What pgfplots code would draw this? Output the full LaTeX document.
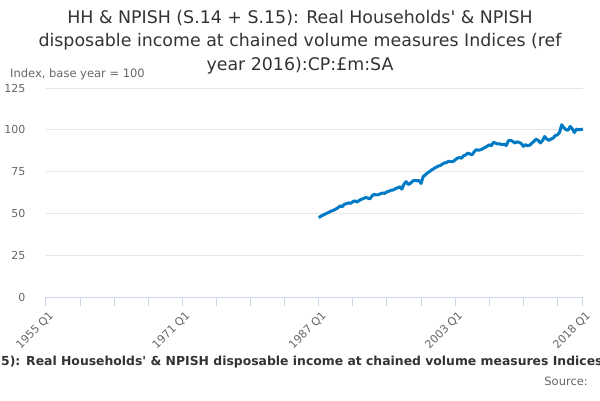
\documentclass[border=0pt]{standalone}
\usepackage{pgfplots}
\pgfplotsset{compat=1.18}
\usepackage{fontspec}
\setmainfont{DejaVu Sans}
\definecolor{linec}{RGB}{0,122,196}
\definecolor{gridc}{HTML}{E6E6E6}
\definecolor{axisc}{HTML}{CCD6EB}
\definecolor{titc}{HTML}{333333}
\definecolor{labc}{HTML}{666666}
\pgfplotstableread{
t v
1987.00 47.5
1987.25 48.3
1987.50 49.0
1987.75 49.6
1988.00 50.2
1988.25 50.8
1988.50 51.5
1988.75 51.9
1989.00 52.6
1989.25 53.3
1989.50 54.5
1989.75 54.0
1990.00 55.5
1990.25 55.8
1990.50 56.3
1990.75 56.0
1991.00 57.0
1991.25 57.5
1991.50 56.8
1991.75 57.8
1992.00 58.4
1992.25 58.9
1992.50 59.5
1992.75 59.2
1993.00 58.7
1993.25 60.5
1993.50 61.4
1993.75 61.0
1994.00 61.2
1994.25 61.8
1994.50 62.2
1994.75 62.0
1995.00 62.9
1995.25 63.3
1995.50 63.9
1995.75 64.0
1996.00 64.8
1996.25 65.3
1996.50 65.9
1996.75 64.5
1997.00 67.5
1997.25 69.0
1997.50 67.3
1997.75 68.0
1998.00 69.3
1998.25 69.8
1998.50 69.5
1998.75 69.6
1999.00 67.9
1999.25 72.0
1999.50 73.0
1999.75 74.2
2000.00 75.0
2000.25 76.0
2000.50 76.8
2000.75 77.5
2001.00 78.3
2001.25 78.6
2001.50 79.5
2001.75 80.2
2002.00 80.4
2002.25 81.2
2002.50 81.0
2002.75 81.0
2003.00 82.0
2003.25 83.0
2003.50 83.4
2003.75 83.0
2004.00 84.5
2004.25 85.0
2004.50 86.1
2004.75 85.5
2005.00 85.1
2005.25 87.0
2005.50 88.1
2005.75 87.8
2006.00 88.1
2006.25 88.7
2006.50 89.5
2006.75 90.1
2007.00 91.0
2007.25 90.5
2007.50 92.5
2007.75 92.0
2008.00 91.5
2008.25 91.6
2008.50 91.1
2008.75 91.3
2009.00 90.6
2009.25 93.5
2009.50 93.7
2009.75 93.1
2010.00 92.1
2010.25 92.8
2010.50 92.5
2010.75 91.8
2011.00 90.1
2011.25 91.1
2011.50 90.5
2011.75 90.8
2012.00 92.0
2012.25 93.1
2012.50 94.4
2012.75 93.6
2013.00 92.1
2013.25 93.5
2013.50 96.0
2013.75 94.5
2014.00 93.7
2014.25 94.5
2014.50 95.0
2014.75 96.5
2015.00 97.0
2015.25 98.4
2015.50 103.0
2015.75 101.3
2016.00 100.0
2016.25 99.8
2016.50 102.0
2016.75 100.5
2017.00 98.4
2017.25 100.4
2017.50 100.0
2017.75 100.2
2018.00 100.4
}\datatable
\begin{document}
\begin{tikzpicture}
\path[use as bounding box] (0pt,0pt) rectangle (600pt,400pt);
\begin{axis}[
  at={(46pt,103pt)}, anchor=south west,
  scale only axis, width=537pt, height=209pt,
  xmin=1955, xmax=2018, ymin=0, ymax=125,
  axis x line*=bottom, axis y line*=left,
  y axis line style={draw=none},
  x axis line style={draw=axisc, line width=1pt, -},
  ytick={0,25,50,75,100,125},
  ymajorgrids, grid style={draw=gridc, line width=1pt},
  ytick style={draw=none},
  xtick={1955,1959,1963,1967,1971,1975,1979,1983,1987,1991,1995,1999,2003,2007,2011,2015,2018},
  xticklabels={1955 Q1,,,,1971 Q1,,,,1987 Q1,,,,2003 Q1,,,,2018 Q1},
  tick align=outside, major tick length=9pt,
  xtick style={draw=axisc, line width=1pt},
  xticklabel style={rotate=45, anchor=north east, font=\fontsize{11}{13}\selectfont, text=labc, xshift=2pt, yshift=-1pt},
  yticklabel style={font=\fontsize{11}{13}\selectfont, text=labc, xshift=-8pt},
  /pgf/number format/assume math mode=true,
  clip=false,
]
\addplot[linec, line width=3pt, line join=round, no marks] table[x=t,y=v] {\datatable};
\end{axis}
\node[align=center, text=titc, font=\fontsize{17.4}{23.5}\selectfont] at (300pt,358pt) {HH \& NPISH (S.14 + S.15): Real Households\textquotesingle{} \& NPISH\\disposable income at chained volume measures Indices (ref\\year 2016):CP:£m:SA};
\node[anchor=base west, text=labc, font=\fontsize{11.5}{13}\selectfont, inner sep=0pt] at (10pt,323pt) {Index, base year = 100};
\node[anchor=base west, text=titc, font=\bfseries\fontsize{12.4}{14}\selectfont, inner sep=0pt] at (1pt,35pt) {5): Real Households\textquotesingle{} \& NPISH disposable income at chained volume measures Indices (ref year 2016):CP:£m:SA};
\node[anchor=base east, text=labc, font=\fontsize{11.5}{13}\selectfont, inner sep=0pt] at (588pt,15pt) {Source:};
\end{tikzpicture}
\end{document}
